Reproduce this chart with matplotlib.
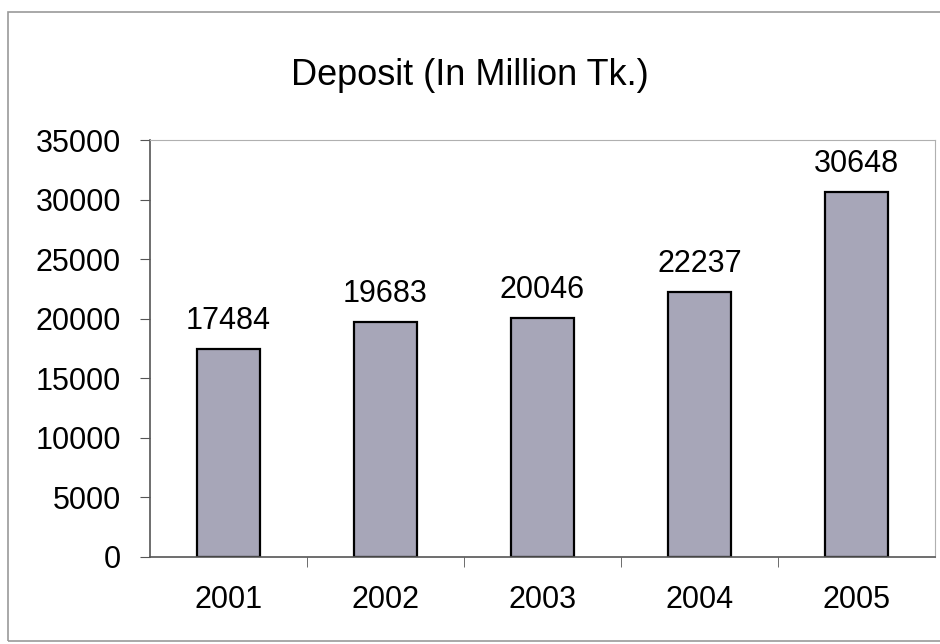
import matplotlib
matplotlib.use("Agg")
from matplotlib import pyplot as plt
from matplotlib.patches import Rectangle

years = ["2001", "2002", "2003", "2004", "2005"]
deposits = [17484, 19683, 20046, 22237, 30648]
yticks = [0, 5000, 10000, 15000, 20000, 25000, 30000, 35000]

plt.rcParams['font.family'] = ['Liberation Sans', 'DejaVu Sans']

fig = plt.figure(figsize=(9.4, 6.44), dpi=100)
# plot area: x 150..935 px, y 140..557 px
ax = fig.add_axes([0.1596, 0.1351, 0.8351, 0.6475])

# outer chart border
fig.patches.append(Rectangle((0.009, 0.004), 1.2, 0.977, transform=fig.transFigure,
                             fill=False, edgecolor='#9a9a9a', linewidth=1.2))

x = list(range(len(years)))
ax.bar(x, deposits, width=0.4, color='#a7a6b8', edgecolor='black', linewidth=1.6)
for xi, v in zip(x, deposits):
    ax.text(xi, v + 1100, str(v), ha='center', va='bottom', fontsize=22)

ax.set_xlim(-0.5, len(years) - 0.5)
ax.set_ylim(0, 35000)
ax.set_yticks(yticks)
ax.set_yticklabels([str(t) for t in yticks], fontsize=22)
ax.set_xticks(x)
ax.set_xticklabels(years, fontsize=22)
ax.tick_params(axis='x', length=0, pad=20)
ax.set_xticks([i + 0.5 for i in range(len(years) - 1)], minor=True)
ax.tick_params(axis='x', which='minor', length=7, color='#555555')
ax.tick_params(axis='y', length=7, color='#555555', pad=14)

ax.spines['top'].set_color('#b0b0b0')
ax.spines['right'].set_color('#b0b0b0')
ax.spines['left'].set_color('#555555')
ax.spines['bottom'].set_color('#555555')
ax.spines['left'].set_linewidth(1.2)
ax.spines['bottom'].set_linewidth(1.2)

fig.text(0.5, 0.883, "Deposit (In Million Tk.)", ha='center', va='center', fontsize=26)

fig.savefig("out.png", dpi=100)
